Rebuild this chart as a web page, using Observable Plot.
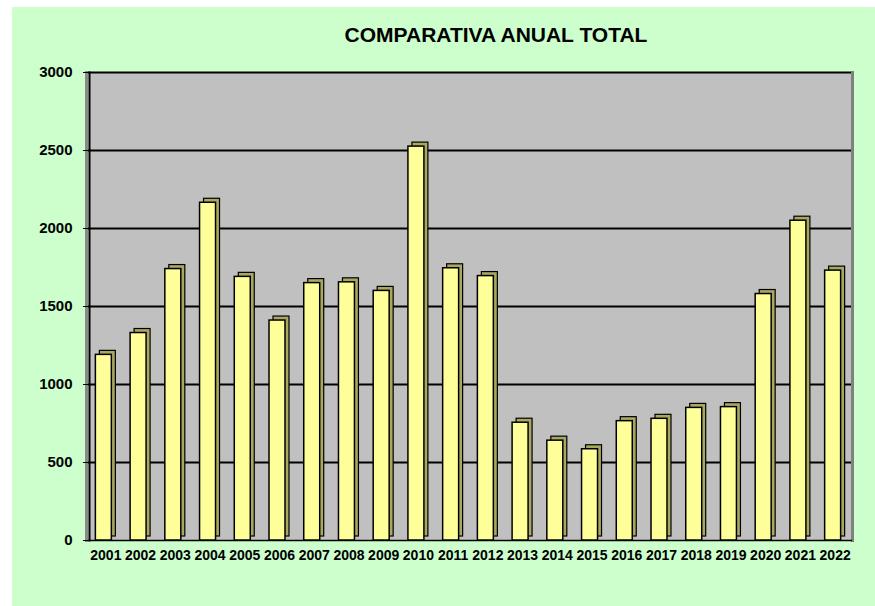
<!DOCTYPE html>
<html>
<head>
<meta charset="utf-8">
<script src="https://cdn.jsdelivr.net/npm/d3@7"></script>
<script src="https://cdn.jsdelivr.net/npm/@observablehq/plot@0.6"></script>
<style>
  html, body { margin: 0; padding: 0; background: #ffffff; width: 875px; height: 606px; overflow: hidden; }
  #bg { position: absolute; left: 12px; top: 7px; width: 863px; height: 599px; background: #ccffcc; }
  #title { position: absolute; left: 296px; width: 400px; top: 23px; text-align: center;
           font: bold 21px "Liberation Sans", Arial, sans-serif; color: #000; white-space: nowrap; }
  #chart { position: absolute; left: 0; top: 60px; }
</style>
</head>
<body>
<div id="bg"></div>
<div id="title">COMPARATIVA ANUAL TOTAL</div>
<div id="chart"></div>
<script>
const years = ["2001","2002","2003","2004","2005","2006","2007","2008","2009","2010","2011",
               "2012","2013","2014","2015","2016","2017","2018","2019","2020","2021","2022"];
const totals = [1190, 1330, 1740, 2165, 1690, 1410, 1650, 1655, 1600, 2525, 1745,
                1695, 755, 640, 585, 765, 780, 850, 855, 1580, 2050, 1730];
const yTicks = [0, 500, 1000, 1500, 2000, 2500, 3000];

const data = years.map((y, i) => ({year: y, value: totals[i]}));

const chart = Plot.plot({
  width: 875,
  height: 546,
  marginTop: 12,
  marginBottom: 66,
  marginLeft: 88,
  marginRight: 23,
  style: {background: "transparent", fontFamily: "'Liberation Sans', Arial, sans-serif", color: "#000"},
  x: {domain: years, paddingInner: 0.54, paddingOuter: 0.27, round: false, label: null},
  y: {domain: [0, 3000], label: null},
  marks: [
    Plot.frame({fill: "#c0c0c0", stroke: null}),
    Plot.ruleY(yTicks.filter(d => d > 0), {stroke: "#000", strokeWidth: 2}),
    Plot.frame({anchor: "right", stroke: "#808080", strokeWidth: 3}),
    Plot.frame({anchor: "left", stroke: "#8a8a8a", strokeWidth: 3, dx: -2}),
    Plot.frame({anchor: "left", stroke: "#000", strokeWidth: 2, dx: 1}),
    Plot.ruleY([0], {stroke: "#000", strokeWidth: 1.5}),
    Plot.barY(data, {x: "year", y: "value", fill: "#a8a860", stroke: "#000", strokeWidth: 1.2, dx: 2, dy: -4}),
    Plot.barY(data, {x: "year", y: "value", fill: "#ffff99", stroke: "#000", strokeWidth: 1.5, dx: -2}),
    Plot.axisY({ticks: yTicks, tickFormat: "d", tickSize: 5, tickPadding: 11, fontSize: 15, fontWeight: "bold", label: null}),
    Plot.axisX({tickSize: 0, tickPadding: 10, fontSize: 14, fontWeight: "bold", label: null})
  ]
});
document.getElementById("chart").appendChild(chart);
</script>
</body>
</html>
